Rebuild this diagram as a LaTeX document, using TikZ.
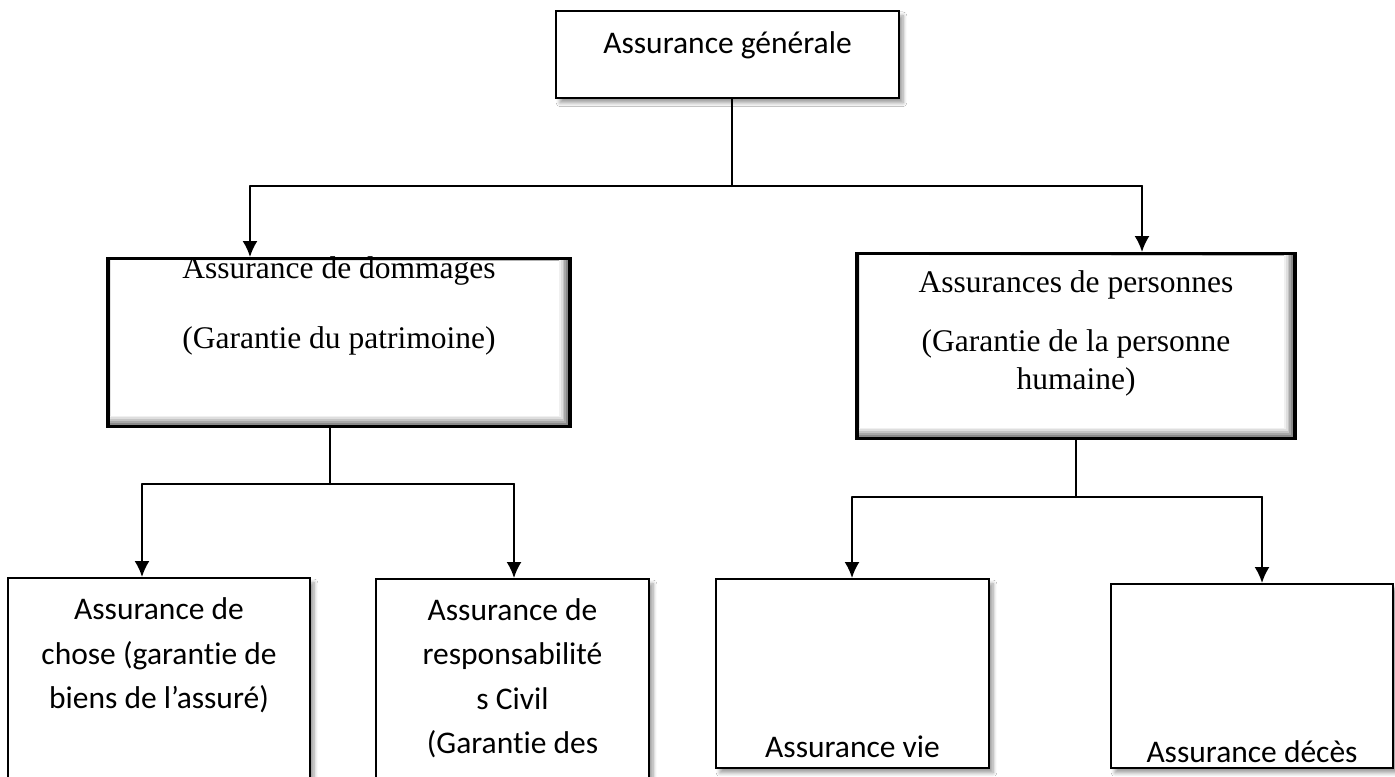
\documentclass[tikz,border=0pt]{standalone}
\usepackage{fontspec}
\setmainfont{Carlito}[Ligatures=NoCommon]
\newfontfamily\timesfont{Liberation Serif}
\usetikzlibrary{arrows.meta, shadows.blur}

\tikzset{
	flatbox/.style={draw, fill=white, line width=0.8pt, inner sep=0pt, anchor=north, align=center,
		font=\fontsize{15.75}{22.25}\selectfont,
		blur shadow={shadow xshift=2pt, shadow yshift=-2.5pt, shadow blur steps=6}},
	bevelbox/.style={draw, fill=white, line width=1.6pt, inner sep=0pt, anchor=north, align=center,
		font=\timesfont\fontsize{15.75}{19}\selectfont,
		path picture={
			\draw[black!30, line width=1.2pt] ([xshift=0.6pt]path picture bounding box.south west) -- ([xshift=0.6pt]path picture bounding box.north west) -- ([yshift=-0.6pt]path picture bounding box.north east);
			\foreach \i/\c in {5/6,4/13,3/23,2/34,1/46,0/58}{
				\draw[black!\c, line width=1pt, line cap=butt, line join=miter]
					([yshift=\i*0.9pt+0.5pt]path picture bounding box.south west)
					-- ([xshift=-\i*0.9pt-0.5pt, yshift=\i*0.9pt+0.5pt]path picture bounding box.south east)
					-- ([xshift=-\i*0.9pt-0.5pt]path picture bounding box.north east);
			}
		}},
	arr/.style={-{Latex[length=8pt, width=7.5pt]}},
}

\begin{document}
\begin{tikzpicture}[x=0.5pt, y=-0.5pt, line cap=round, line width=1pt]
%		\draw (0,0) grid (1395,776);
		\useasboundingbox[fill=white] (0,0) rectangle (1395,776);
		
		\coordinate (b1L) at (250,186);
		\coordinate (b1R) at (1142,186);
		\coordinate (b2L) at (142,484);
		\coordinate (b2R) at (514,484);
		\coordinate (j2) at (330,484);
		\coordinate (b3L) at (852,497);
		\coordinate (b3R) at (1262,497);
		
		\node[flatbox, minimum width=171.5pt, text height=21.5pt, text depth=22pt] (gen) at (727.5,10) {Assurance générale};
		
		\node[bevelbox, minimum width=231pt, text height=45pt, text depth=39pt] (dom) at (339,257)
			{Assurance de dommages\\[16pt](Garantie du patrimoine)};
		\node[bevelbox, minimum width=219pt, text height=68pt, text depth=24.5pt] (pers) at (1076,252)
			{Assurances de personnes\\[10.5pt](Garantie de la personne\\humaine)};
		
		\node[flatbox, minimum width=151pt, text height=65.5pt, text depth=46pt] (chose) at (159,577)
			{Assurance de\\chose (garantie de\\biens de l’assuré)};
		\node[flatbox, minimum width=136.5pt, text height=87.5pt, text depth=23.5pt] (resp) at (512.5,578)
			{Assurance de\\responsabilité\\s Civil\\(Garantie des};
		\node[flatbox, minimum width=136.5pt, text height=89.5pt, text depth=5pt] (vie) at (852.5,578) {Assurance vie};
		\node[flatbox, minimum width=141pt, text height=89.5pt, text depth=2.5pt] (deces) at (1252,583) {Assurance décès};
		
		\draw (gen.south -| 732,0) -- (732,186);
		\draw (b1L) -- (b1R);
		\draw[arr] (b1L) -- (b1L |- dom.north);
		\draw[arr] (b1R) -- (b1R |- pers.north);
		
		\draw (j2 |- dom.south) -- (j2);
		\draw (b2L) -- (b2R);
		\draw[arr] (b2L) -- (b2L |- chose.north);
		\draw[arr] (b2R) -- (b2R |- resp.north);
		
		\draw (pers.south) -- (pers.south |- b3L);
		\draw (b3L) -- (b3R);
		\draw[arr] (b3L) -- (b3L |- vie.north);
		\draw[arr] (b3R) -- (b3R |- deces.north);
	\end{tikzpicture}
\end{document}
